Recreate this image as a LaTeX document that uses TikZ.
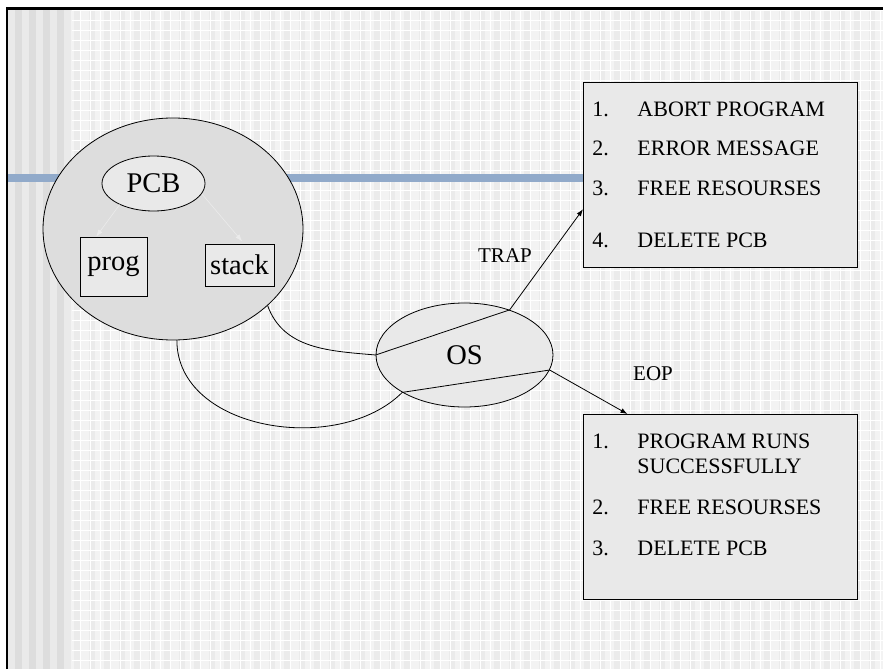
\documentclass[tikz,border=0pt]{standalone}
\usepackage{fontspec}
\setmainfont{Liberation Serif}
\usepackage{tikz}
\usetikzlibrary{shapes.geometric, arrows.meta, positioning}
\definecolor{slidebg}{RGB}{243,243,243}
\definecolor{slidestripe}{RGB}{235,235,235}
\definecolor{stripelight}{RGB}{234,234,234}
\definecolor{stripedark}{RGB}{221,221,221}
\definecolor{bandblue}{RGB}{145,170,202}
\definecolor{cellgray}{RGB}{221,221,221}
\definecolor{boxgray}{RGB}{233,233,233}
\tikzset{
  cell/.style={
    ellipse, draw=black, line width=0.8pt, inner sep=0pt,
    font=\fontsize{28.5}{30}\selectfont
  },
  part/.style={
    rectangle, draw=black, line width=0.8pt, fill=boxgray, inner sep=0pt,
    font=\fontsize{28.5}{30}\selectfont
  },
  listbox/.style={
    rectangle, draw=black, line width=0.9pt, fill=boxgray,
    inner xsep=9pt, inner ysep=0pt, anchor=north west,
    text height=33.7pt, text depth=151.3pt,
    font=\fontsize{22}{25.6}\selectfont
  },
  flow/.style={draw=black, line width=0.8pt},
  hint/.style={draw=white!92!black, line width=0.6pt},
  tag/.style={anchor=base, font=\fontsize{21}{24}\selectfont}
}

\begin{document}
\begin{tikzpicture}[x=1pt, y=1pt, >={Latex[length=7pt,width=5pt]}]
  \useasboundingbox (0,0) rectangle (883,-669);
  \fill[white] (0,0) rectangle (883,-669);
  \fill[slidebg] (8,-10) rectangle (883,-669);
  \foreach \x in {74,89,...,869}
    \fill[slidestripe] (\x,-10) rectangle ++(6,-659);
  \draw[white, line width=0.6pt, step=10] (72,-10) grid (883,-669);
  \fill[stripelight] (8,-10) rectangle (71,-669);
  \foreach \i in {1,3,5,7}
    \fill[stripedark] ({8+7*\i},-10) rectangle ++(7,-659);
  \fill[bandblue] (8,-174) rectangle (700,-182);
  \draw[line width=2.5pt] (7,-669) -- (7,-8.5) -- (883,-8.5);

  \node[cell, fill=cellgray, minimum width=260pt, minimum height=222pt] (pcbcell) at (173,-229) {};
  \node[cell, fill=boxgray, minimum width=103pt, minimum height=55pt] (pcb) at (153.5,-183.5) {PCB};
  \node[part, minimum width=67pt, minimum height=59pt] (prog) at (113.5,-266.5) {prog};
  \node[part, minimum width=69pt, minimum height=42pt] (stack) at (239.5,-265) {stack};
  \draw[hint, ->] (pcb.212) -- (prog.120);
  \draw[hint, ->, shorten >=3pt] (pcb.-12) -- (stack.78);

  \node[cell, fill=boxgray, minimum width=177pt, minimum height=104pt] (os) at (464.5,-355) {OS};

  \node[listbox] (trapbox) at (583,-82) {%
    \begin{tabular}[t]{@{}p{45pt}@{}p{211pt}@{}}
      1. & ABORT PROGRAM\\[13.7pt]
      2. & ERROR MESSAGE\\[14.4pt]
      3. & FREE RESOURSES\\[26.1pt]
      4. & DELETE PCB
    \end{tabular}};
  \node[listbox] (eopbox) at (583,-414) {%
    \begin{tabular}[t]{@{}p{45pt}@{}p{211pt}@{}}
      1. & PROGRAM RUNS\\
         & SUCCESSFULLY\\[15pt]
      2. & FREE RESOURSES\\[15.4pt]
      3. & DELETE PCB
    \end{tabular}};

  \draw[flow, ->] (pcbcell.-39) to[out=-70, in=175] (os.west) -- (os.45) -- (trapbox.194);
  \draw[flow, ->] (pcbcell.-88) to[out=-90, in=-135] (os.211) -- (os.-10) -- (eopbox.135);

  \node[tag] (trap) at (505,-262.7) {TRAP};
  \node[tag] (eop) at (653,-380.7) {EOP};
\end{tikzpicture}
\end{document}
